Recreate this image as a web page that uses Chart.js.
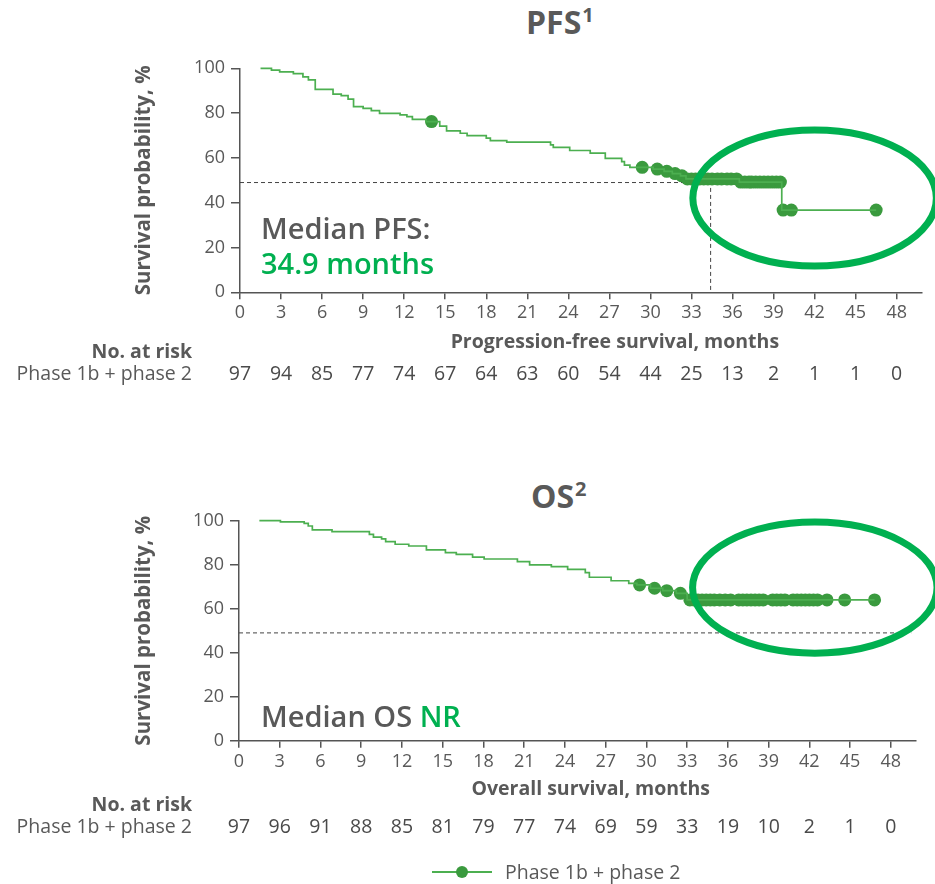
<!DOCTYPE html>
<html>
<head>
<meta charset="utf-8">
<script src="https://cdn.jsdelivr.net/npm/chart.js@4.4.1/dist/chart.umd.min.js"></script>
<style>
  body { margin: 0; background: #fff; width: 935px; height: 884px; position: relative; overflow: hidden;
         font-family: 'Open Sans', sans-serif; color: #595959; }
  .box { position: absolute; left: 0; width: 935px; }
  .title { position: absolute; font-weight: 700; font-size: 32px; line-height: 32px; color: #595959; white-space: nowrap; }
  .title span { font-size: 20px; position: relative; top: -12px; margin-left: 1px; }
  .median { position: absolute; left: 261px; font-size: 29px; line-height: 29px; font-weight: 600; color: #595959; white-space: nowrap; }
  .green { color: #00b050; }
  #legend { position: absolute; left: 432px; top: 860px; height: 24px; font-size: 19.5px; line-height: 24px; color: #595959; white-space: nowrap; }
  #legend .ln { position: absolute; left: 0; top: 11px; width: 60px; height: 2px; background: #4caf50; }
  #legend .dot { position: absolute; left: 24px; top: 6px; width: 12px; height: 12px; border-radius: 50%; background: #3a9a3e; }
  #legend .txt { position: absolute; left: 73px; top: 0; }
</style>
</head>
<body>
<div class="title" style="left:526px; top:6px;">PFS<span>1</span></div>
<div class="title" style="left:531px; top:480px;">OS<span>2</span></div>

<div class="box" style="top:0; height:400px;"><canvas id="pfsChart"></canvas></div>
<div class="box" style="top:440px; height:420px;"><canvas id="osChart"></canvas></div>

<div class="median" style="top:213px;">Median PFS:</div>
<div class="median green" style="top:248px;">34.9 months</div>
<div class="median" style="top:701px;">Median OS <span class="green">NR</span></div>

<div id="legend"><div class="ln"></div><div class="dot"></div><div class="txt">Phase 1b + phase 2</div></div>

<script>
// axis ticks
const xTicks = [0, 3, 6, 9, 12, 15, 18, 21, 24, 27, 30, 33, 36, 39, 42, 45, 48];
const xMax = 49.8;

// PFS step curve (months, % after each drop)
const pfsTime = [1.5, 2.3, 2.9, 3.9, 4.6, 5.0, 5.5, 6.8, 7.4, 7.9, 8.3, 9.0, 9.6, 10.2, 11.7, 12.2, 12.6, 13.6,
                 14.6, 15.1, 16.1, 16.6, 18.0, 18.3, 19.5, 22.7, 22.9, 24.1, 25.6, 26.7, 27.9, 28.1, 28.5,
                 30.2, 31.0, 31.6, 32.2, 32.6, 36.5, 39.6, 46.5];
const pfsSurv = [100, 99.2, 98.4, 97.6, 96.2, 94.8, 90.6, 88.5, 87.8, 86.2, 82.9, 82.1, 81.1, 79.9, 79.2, 78.4, 77.2, 76.2,
                 74.2, 72.1, 71.0, 69.9, 68.8, 67.7, 67.0, 65.8, 64.7, 63.3, 62.1, 59.8, 58.3, 56.8, 55.8,
                 55.0, 54.0, 53.0, 52.0, 50.6, 49.2, 36.7, 36.7];
// PFS censored marks
const pfsCensTime = [14.0, 29.4, 30.5, 31.2, 31.8, 32.3,
                     32.7, 33.0, 33.3, 33.6, 33.9, 34.2, 34.5, 34.9, 35.2, 35.6, 35.9, 36.3,
                     36.6, 36.9, 37.2, 37.4, 37.7, 38.0, 38.3, 38.6, 38.9, 39.2, 39.5,
                     39.7, 40.3, 46.5];
const pfsCensSurv = [76.2, 55.8, 55.0, 54.0, 53.0, 52.0,
                     50.6, 50.6, 50.6, 50.6, 50.6, 50.6, 50.6, 50.6, 50.6, 50.6, 50.6, 50.6,
                     49.2, 49.2, 49.2, 49.2, 49.2, 49.2, 49.2, 49.2, 49.2, 49.2, 49.2,
                     36.7, 36.7, 36.7];
const pfsAtRisk = [97, 94, 85, 77, 74, 67, 64, 63, 60, 54, 44, 25, 13, 2, 1, 1, 0];

// OS step curve
const osTime = [1.5, 3.05, 4.8, 5.1, 5.4, 6.85, 9.6, 9.9, 10.5, 10.8, 11.5, 12.5, 13.8, 15.2, 16.0, 17.2, 18.05,
                20.5, 21.4, 23.0, 24.2, 25.5, 25.8, 27.4, 28.7, 29.3, 30.3, 31.2, 32.2, 33.0, 46.8];
const osSurv = [100, 99.5, 98.8, 97.6, 95.8, 95.0, 93.8, 92.5, 91.7, 90.5, 89.3, 88.5, 86.7, 85.5, 84.7, 83.4, 82.6,
                81.4, 79.9, 79.1, 77.9, 76.4, 74.3, 72.7, 71.5, 70.8, 69.3, 68.2, 67.0, 64.0, 64.0];
const osCensTime = [29.5, 30.6, 31.5, 32.5,
                    33.2, 33.5, 33.8, 34.1, 34.4, 34.7, 35.0, 35.4, 35.8, 36.2,
                    36.8, 37.1, 37.4, 37.7, 38.0, 38.3, 38.6,
                    39.3, 39.6, 39.9, 40.2,
                    40.8, 41.1, 41.4, 41.7, 42.0, 42.3, 42.6,
                    43.3, 44.6, 46.8];
const osCensSurv = [70.8, 69.3, 68.2, 67.0,
                    64, 64, 64, 64, 64, 64, 64, 64, 64, 64,
                    64, 64, 64, 64, 64, 64, 64,
                    64, 64, 64, 64,
                    64, 64, 64, 64, 64, 64, 64,
                    64, 64, 64];
const osAtRisk = [97, 96, 91, 88, 85, 81, 79, 77, 74, 69, 59, 33, 19, 10, 2, 1, 0];

const grey = '#595959';
const axisGrey = '#555555';
const lineGreen = '#4caf50';
const dotGreen = '#3a9a3e';
const ringGreen = '#00b050';

const toXY = (xs, ys) => xs.map((x, i) => ({ x: x, y: ys[i] }));

// dashed median guide, highlight ring, x title and number-at-risk rows
const kmExtras = {
    id: 'kmExtras',
    beforeDatasetsDraw(chart, args, o) {
        const { ctx, chartArea } = chart;
        const xs = chart.scales.x, ys = chart.scales.y;
        ctx.save();
        ctx.setLineDash([4, 3]);
        ctx.strokeStyle = '#444';
        ctx.lineWidth = 1;
        ctx.beginPath();
        const yMed = ys.getPixelForValue(o.medianLevel);
        ctx.moveTo(chartArea.left, yMed);
        if (o.medianTime != null) {
            const xm = xs.getPixelForValue(o.medianTime);
            ctx.lineTo(xm, yMed);
            ctx.lineTo(xm, ys.getPixelForValue(0));
        } else {
            ctx.lineTo(xs.getPixelForValue(o.dashEnd), yMed);
        }
        ctx.stroke();
        ctx.restore();
    },
    afterDatasetsDraw(chart, args, o) {
        const { ctx } = chart;
        const xs = chart.scales.x, ys = chart.scales.y;
        const r = o.ring;
        const cx = xs.getPixelForValue(r.x), cy = ys.getPixelForValue(r.y);
        const rx = xs.getPixelForValue(r.x + r.rx) - cx;
        const ry = cy - ys.getPixelForValue(r.y + r.ry);
        ctx.save();
        ctx.strokeStyle = ringGreen;
        ctx.lineWidth = 7;
        ctx.beginPath();
        ctx.ellipse(cx, cy, rx, ry, 0, 0, Math.PI * 2);
        ctx.stroke();
        ctx.restore();
    },
    afterDraw(chart, args, o) {
        const { ctx } = chart;
        const xs = chart.scales.x;
        const y0 = chart.scales.y.getPixelForValue(0);
        ctx.save();
        ctx.fillStyle = grey;
        ctx.textBaseline = 'middle';
        ctx.textAlign = 'center';
        ctx.font = 'bold 19.5px "Open Sans"';
        ctx.fillText(o.xTitle, xs.getPixelForValue(o.xTitleAt), y0 + o.xTitleDy);
        ctx.textAlign = 'right';
        ctx.fillText('No. at risk', 192, y0 + o.riskHeadDy);
        ctx.font = '19.5px "Open Sans"';
        ctx.fillText('Phase 1b + phase 2', 192, y0 + o.riskRowDy);
        ctx.textAlign = 'center';
        ctx.fillStyle = '#4a4a4a';
        o.atRisk.forEach((n, i) => {
            ctx.fillText(String(n), xs.getPixelForValue(xTicks[i]), y0 + o.riskRowDy);
        });
        ctx.restore();
    }
};

function makeChart(id, time, surv, censT, censS, pad, yWidth, extras) {
    return new Chart(document.getElementById(id), {
        type: 'line',
        data: {
            datasets: [{
                data: toXY(time, surv),
                stepped: 'before',
                borderColor: lineGreen,
                borderWidth: 1.7,
                pointRadius: 0,
                fill: false,
                clip: false
            }, {
                data: toXY(censT, censS),
                showLine: false,
                pointRadius: 6.5,
                pointBorderWidth: 0,
                pointBackgroundColor: dotGreen,
                clip: false
            }]
        },
        options: {
            responsive: true,
            maintainAspectRatio: false,
            animation: false,
            events: [],
            layout: { padding: pad },
            plugins: {
                legend: { display: false },
                tooltip: { enabled: false },
                kmExtras: extras
            },
            scales: {
                x: {
                    type: 'linear',
                    min: 0,
                    max: xMax,
                    afterBuildTicks: s => { s.ticks = xTicks.map(v => ({ value: v })); },
                    afterFit: s => { s.height = 30; },
                    grid: { display: true, drawOnChartArea: false, drawTicks: true, tickLength: 7, color: axisGrey, lineWidth: 1.5 },
                    border: { display: true, color: axisGrey, width: 1.5 },
                    ticks: { autoSkip: false, maxRotation: 0, padding: 3, color: grey, font: { family: 'Open Sans', size: 18 } }
                },
                y: {
                    min: 0,
                    max: 100,
                    afterFit: s => { s.width = yWidth; },
                    grid: { display: true, drawOnChartArea: false, drawTicks: true, tickLength: 9, color: axisGrey, lineWidth: 1.5 },
                    border: { display: true, color: axisGrey, width: 1.5 },
                    ticks: { stepSize: 20, padding: 6, color: grey, font: { family: 'Open Sans', size: 18 } },
                    title: {
                        display: true,
                        text: 'Survival probability, %',
                        color: grey,
                        padding: { top: 4, bottom: 0 },
                        font: { family: 'Open Sans', size: 20.5, weight: 'bold' }
                    }
                }
            }
        },
        plugins: [kmExtras]
    });
}

makeChart('pfsChart', pfsTime, pfsSurv, pfsCensTime, pfsCensSurv,
    { left: 128, right: 13.7, top: 68.3, bottom: 77.7 }, 112, {
        medianLevel: 49, medianTime: 34.4,
        ring: { x: 42.0, y: 42.1, rx: 8.9, ry: 30.4 },
        xTitle: 'Progression-free survival, months', xTitleAt: 27.4, xTitleDy: 50,
        riskHeadDy: 60, riskRowDy: 82, atRisk: pfsAtRisk
    });

makeChart('osChart', osTime, osSurv, osCensTime, osCensSurv,
    { left: 128, right: 19.7, top: 80.7, bottom: 89.3 }, 111, {
        medianLevel: 49, medianTime: null, dashEnd: 49.5,
        ring: { x: 42.4, y: 69.6, rx: 9.0, ry: 29.8 },
        xTitle: 'Overall survival, months', xTitleAt: 25.9, xTitleDy: 49,
        riskHeadDy: 65, riskRowDy: 87, atRisk: osAtRisk
    });
</script>
</body>
</html>
